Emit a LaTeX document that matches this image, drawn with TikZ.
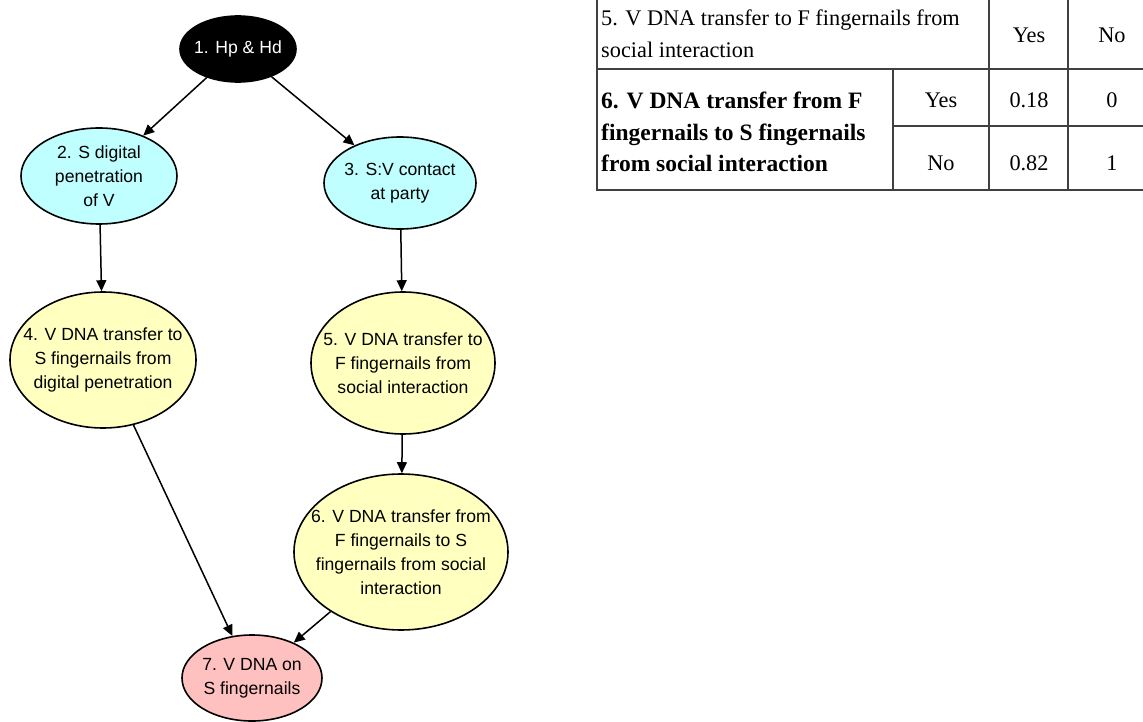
\documentclass[tikz,border=0pt]{standalone}
\usepackage{fontspec}
\setmainfont{Liberation Serif}
\newfontfamily\nodefont{Liberation Sans}
\usetikzlibrary{shapes.geometric,arrows.meta}
\definecolor{cyanfill}{HTML}{C0FFFF}
\definecolor{yelfill}{HTML}{FFFFC0}
\definecolor{pinkfill}{HTML}{FFC0C0}
\definecolor{tabline}{HTML}{404040}
\tikzset{
  ell/.style={ellipse, draw=black, line width=1.6pt, inner sep=0pt},
  cyanell/.style={ell, fill=cyanfill},
  yelell/.style={ell, fill=yelfill},
  pinkell/.style={ell, fill=pinkfill},
  blackell/.style={ell, fill=black},
  txt/.style={align=center, inner sep=0pt, font=\nodefont\fontsize{17.6}{24}\selectfont},
  conn/.style={line width=1.5pt, -{Triangle[length=11pt,width=10pt]}},
  tab/.style={draw=tabline, line width=1.5pt},
  ttxt/.style={inner sep=0pt, font=\fontsize{22.3}{31.5}\selectfont},
  btxt/.style={inner sep=0pt, align=left, font=\bfseries\fontsize{23.5}{31.5}\selectfont},
}
\begin{document}
\begin{tikzpicture}[x=1pt,y=-1pt]
\useasboundingbox (0,0) rectangle (1143,722);
% nodes
\node[blackell, minimum width=116pt, minimum height=66pt] (n1) at (238,49) {};
\node[txt, text=white] (t1) at (n1) {1. Hp \& Hd};
\node[cyanell, minimum width=156pt, minimum height=96pt] (n2) at (99,176) {};
\node[txt] (t2) at (n2) {2. S digital\\penetration\\of V};
\node[cyanell, minimum width=152pt, minimum height=92pt] (n3) at (400,183) {};
\node[txt] (t3) at (n3) {3. S:V contact\\at party};
\node[yelell, minimum width=186pt, minimum height=136pt] (n4) at (103,360) {};
\node[txt] (t4) at (n4) {4. V DNA transfer to\\S fingernails from\\digital penetration};
\node[yelell, minimum width=184pt, minimum height=142pt] (n5) at (403,363) {};
\node[txt] (t5) at (n5) {5. V DNA transfer to\\F fingernails from\\social interaction};
\node[yelell, minimum width=214pt, minimum height=156pt] (n6) at (401,552) {};
\node[txt] (t6) at (n6) {6. V DNA transfer from\\F fingernails to S\\fingernails from social\\interaction};
\node[pinkell, minimum width=140pt, minimum height=86pt] (n7) at (252,678) {};
\node[txt] (t7) at (n7) {7. V DNA on\\S fingernails};
% connectors
\draw[conn] (n1) -- (n2);
\draw[conn] (n1) -- (n3);
\draw[conn] (n2) -- (n4);
\draw[conn] (n3) -- (n5);
\draw[conn] (n5) -- (n6);
\draw[conn] (n4) -- (n7);
\draw[conn] (n6) -- (n7);
% table
\draw[tab] (597,-2) -- (597,190) -- (1145,190);
\draw[tab] (597,69) -- (1145,69);
\draw[tab] (893,126) -- (1145,126);
\draw[tab] (893,69) -- (893,190);
\draw[tab] (989,-2) -- (989,190);
\draw[tab] (1068,-2) -- (1068,190);
\node[ttxt, anchor=west, align=left] (h1) at (601,34) {5. V DNA transfer to F fingernails from\\social interaction};
\node[ttxt] (hy) at (1029,35) {Yes};
\node[ttxt] (hn) at (1112,35) {No};
\node[btxt, anchor=west] (h2) at (601,132) {6. V DNA transfer from F\\fingernails to S fingernails\\from social interaction};
\node[ttxt] (ry) at (941,100) {Yes};
\node[ttxt] (rn) at (941,163) {No};
\node[ttxt] (c1) at (1029,100) {0.18};
\node[ttxt] (c2) at (1112,100) {0};
\node[ttxt] (c3) at (1029,163) {0.82};
\node[ttxt] (c4) at (1112,163) {1};
\end{tikzpicture}
\end{document}
